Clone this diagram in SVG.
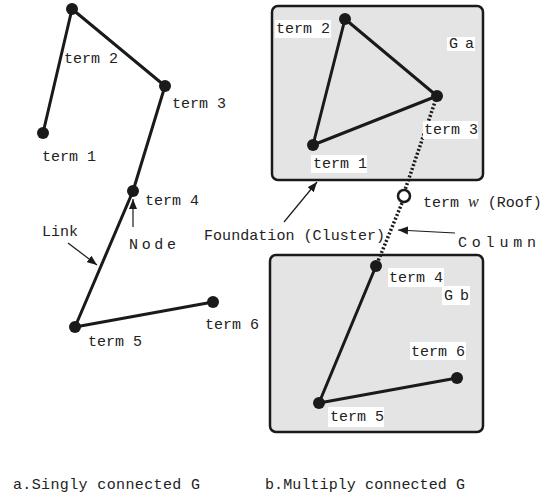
<svg xmlns="http://www.w3.org/2000/svg" width="556" height="500" viewBox="0 0 556 500">
<style>
text{font-family:"Liberation Mono","DejaVu Sans Mono",monospace;font-size:15px;fill:#222}
.e{stroke:#1a1a1a;stroke-width:3;fill:none;stroke-linecap:round}
.n{fill:#1a1a1a}
.box{fill:#e4e4e4;stroke:#1a1a1a;stroke-width:2.5}
.lb{fill:#fff}
.ar{stroke:#1a1a1a;stroke-width:1.2;fill:none}
.dot{stroke:#1a1a1a;stroke-width:3.5;stroke-dasharray:2 2;fill:none}
</style>
<defs>
<marker id="ah" viewBox="0 0 10 8" refX="10" refY="4" markerWidth="10" markerHeight="8" markerUnits="userSpaceOnUse" orient="auto">
<path d="M0,0 L10,4 L0,8 Z" fill="#1a1a1a"/>
</marker>
</defs>
<rect width="556" height="500" fill="#fff"/>
<g id="clusters">
<rect id="Ga" class="box" x="272" y="6" width="211" height="174" rx="6"/>
<rect id="Gb" class="box" x="270" y="255" width="213" height="177" rx="6"/>
</g>
<g id="connectors">
<line class="e" x1="43" y1="133" x2="72" y2="9"/>
<line class="e" x1="72" y1="9" x2="165" y2="86"/>
<line class="e" x1="165" y1="86" x2="133" y2="191"/>
<line class="e" x1="133" y1="191" x2="75" y2="327"/>
<line class="e" x1="75" y1="327" x2="213" y2="302"/>
<line class="e" x1="345" y1="19" x2="313" y2="145"/>
<line class="e" x1="345" y1="19" x2="437" y2="96"/>
<line class="e" x1="437" y1="96" x2="313" y2="145"/>
<line class="dot" x1="437" y1="96" x2="405" y2="190"/>
<line class="dot" x1="402" y1="203" x2="376" y2="266"/>
<line class="e" x1="376" y1="266" x2="319" y2="403"/>
<line class="e" x1="319" y1="403" x2="457" y2="378"/>
<line class="ar" x1="133" y1="227" x2="133" y2="199" marker-end="url(#ah)"/>
<line class="ar" x1="68" y1="243" x2="97" y2="265" marker-end="url(#ah)"/>
<line class="ar" x1="284" y1="222" x2="317" y2="182" marker-end="url(#ah)"/>
<line class="ar" x1="455" y1="233" x2="398" y2="230" marker-end="url(#ah)"/>
</g>
<g id="a_term1"><circle class="n" cx="43" cy="133" r="6"/><text x="42" y="161">term 1</text></g>
<g id="a_term2"><circle class="n" cx="72" cy="9" r="6"/><text x="64" y="63">term 2</text></g>
<g id="a_term3"><circle class="n" cx="165" cy="86" r="6"/><text x="172" y="108">term 3</text></g>
<g id="a_term4"><circle class="n" cx="133" cy="191" r="6"/><text x="145" y="205">term 4</text></g>
<g id="a_term5"><circle class="n" cx="75" cy="327" r="6"/><text x="88" y="346">term 5</text></g>
<g id="a_term6"><circle class="n" cx="213" cy="302" r="6"/><text x="205" y="329">term 6</text></g>
<g id="lbl_link"><text x="42" y="236">Link</text></g>
<g id="lbl_node"><text x="129" y="249" textLength="47">Node</text></g>
<g id="b_term1"><circle class="n" cx="313" cy="145" r="6"/><rect class="lb" x="311" y="155" width="56" height="18"/><text x="313" y="168">term 1</text></g>
<g id="b_term2"><circle class="n" cx="345" cy="19" r="6"/><rect class="lb" x="275" y="20" width="56" height="18"/><text x="276" y="33">term 2</text></g>
<g id="b_term3"><circle class="n" cx="437" cy="96" r="6"/><rect class="lb" x="423" y="121" width="55" height="18"/><text x="424" y="134">term 3</text></g>
<g id="b_Ga"><rect class="lb" x="447" y="37" width="28" height="14"/><text x="449" y="48" textLength="25">Ga</text></g>
<g id="b_roof"><circle cx="404" cy="196" r="6" fill="#fff" stroke="#1a1a1a" stroke-width="2.5"/><text x="423" y="207">term <tspan font-family="Liberation Serif" font-style="italic" font-size="16">w</tspan> (Roof)</text></g>
<g id="b_term4"><circle class="n" cx="376" cy="266" r="6"/><rect class="lb" x="388" y="268" width="56" height="19"/><text x="389" y="282">term 4</text></g>
<g id="b_Gb"><rect class="lb" x="442" y="286" width="28" height="19"/><text x="444" y="300" textLength="25">Gb</text></g>
<g id="b_term5"><circle class="n" cx="319" cy="403" r="6"/><rect class="lb" x="328" y="407" width="56" height="20"/><text x="330" y="421">term 5</text></g>
<g id="b_term6"><circle class="n" cx="457" cy="378" r="6"/><rect class="lb" x="410" y="342" width="56" height="18"/><text x="411" y="356">term 6</text></g>
<g id="lbl_foundation"><text x="204" y="240" textLength="181">Foundation (Cluster)</text></g>
<g id="lbl_column"><text x="458" y="247" textLength="78">Column</text></g>
<g id="captions">
<text x="13" y="489" textLength="187">a.Singly connected G</text>
<text x="265" y="489" textLength="200">b.Multiply connected G</text>
</g>
</svg>
